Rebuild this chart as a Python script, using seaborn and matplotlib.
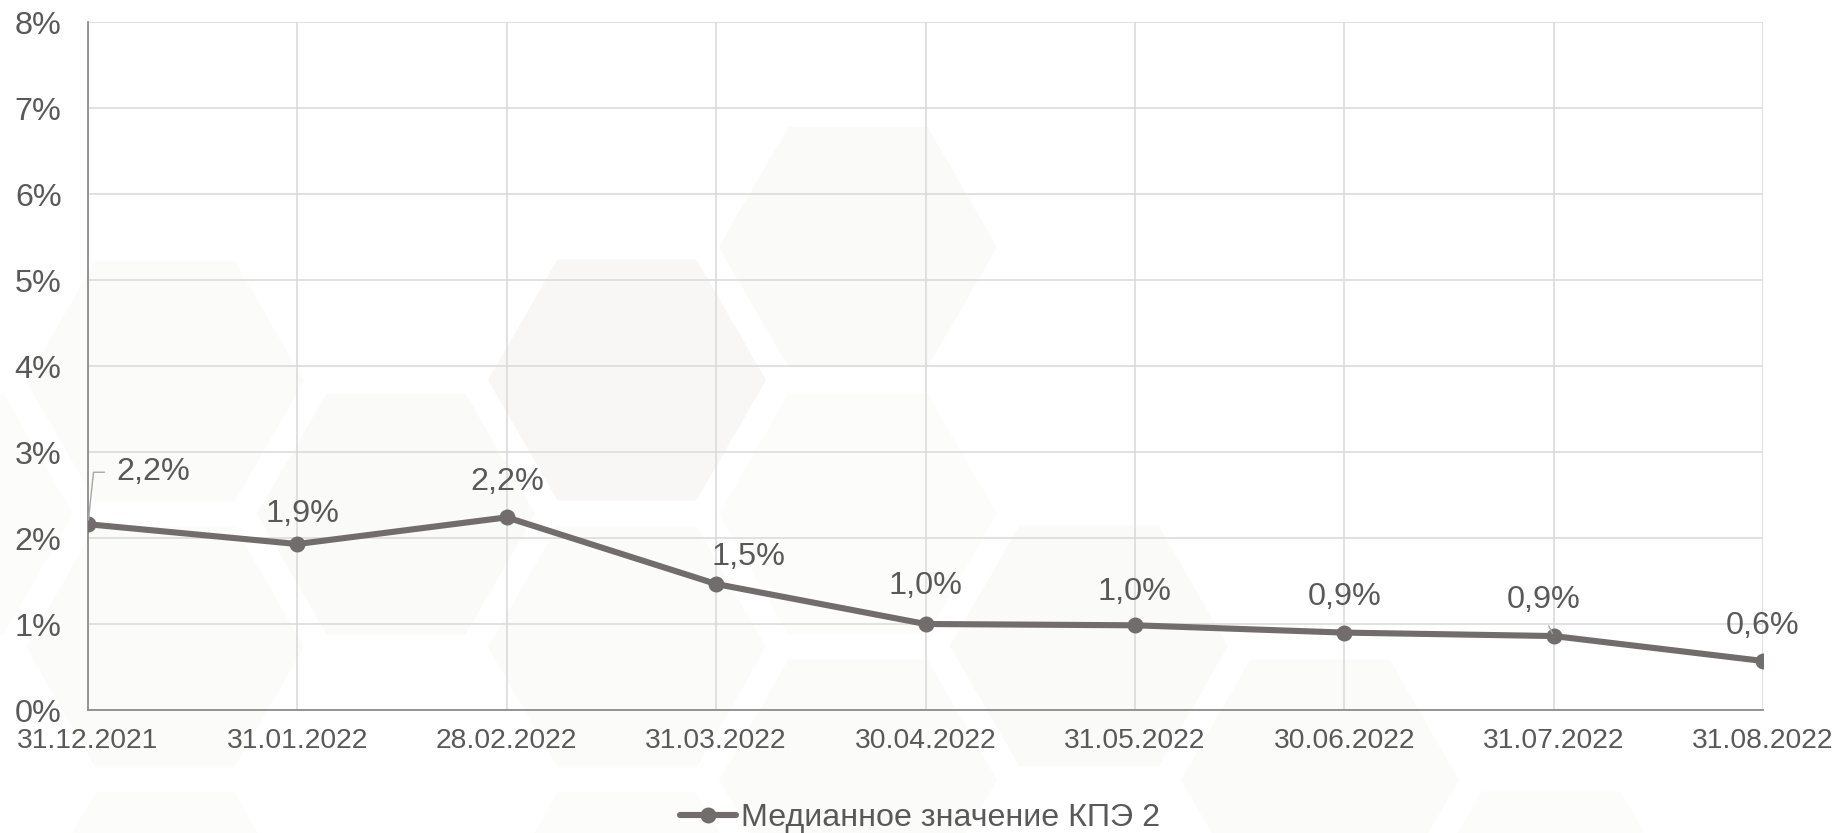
import numpy as np
import pandas as pd
import matplotlib
matplotlib.use("Agg")
import matplotlib.pyplot as plt
import seaborn as sns
from matplotlib.patches import RegularPolygon
from matplotlib.transforms import IdentityTransform
from matplotlib.ticker import FuncFormatter

# ---- data -------------------------------------------------------------
dates = ["31.12.2021", "31.01.2022", "28.02.2022", "31.03.2022", "30.04.2022",
         "31.05.2022", "30.06.2022", "31.07.2022", "31.08.2022"]
kpe2_median = [2.16, 1.93, 2.24, 1.465, 1.0, 0.985, 0.90, 0.86, 0.57]
series_name = "Медианное значение КПЭ 2"
y_ticks = [0, 1, 2, 3, 4, 5, 6, 7, 8]

# ---- style ------------------------------------------------------------
sns.set_theme(style="white")
plt.rcParams["font.family"] = ["Liberation Sans", "DejaVu Sans"]

LINE = "#716d6d"
TEXT = "#595959"
GRID = "#d9d9d9"
SPINE = "#8c8c8c"

W, H, DPI = 1836, 833, 100
fig = plt.figure(figsize=(W / DPI, H / DPI), dpi=DPI)
fig.patch.set_facecolor("white")

# faint honeycomb backdrop (pixel centres, top-left origin)
hex_cells = [
    (-66, 514, "#fcfcfb"), (165, 381, "#fbfbfa"), (165, 647, "#fbfbfa"),
    (165, 913, "#fcfcfb"), (396, 514, "#fafaf9"), (627, 380, "#f8f7f5"),
    (627, 647, "#fbfbfa"), (627, 913, "#fcfcfb"), (858, 247, "#fafaf9"),
    (858, 514, "#fcfcfb"), (858, 780, "#fbfbfa"), (1089, 646, "#fafaf9"),
    (1320, 780, "#fbfbfa"), (1551, 912, "#fcfcfb"),
]
for cx, cy, shade in hex_cells:
    fig.add_artist(RegularPolygon((cx, H - cy), numVertices=6, radius=139,
                                  orientation=np.pi / 6, transform=IdentityTransform(),
                                  facecolor=shade, edgecolor="none", zorder=-5))

# plot area
left, right, top, bottom = 88, 1763, 22, 710
ax = fig.add_axes([left / W, (H - bottom) / H, (right - left) / W, (bottom - top) / H])
ax.set_facecolor("none")

df = pd.DataFrame({"date": dates, "value": kpe2_median})
sns.lineplot(data=df, x="date", y="value", sort=False, marker="o", markersize=11.5,
             markeredgewidth=0, color=LINE, linewidth=4.4, label=series_name,
             ax=ax, zorder=3)

ax.set_xlim(0, len(dates) - 1)
ax.set_ylim(y_ticks[0], y_ticks[-1])
ax.set_yticks(y_ticks)
ax.yaxis.set_major_formatter(FuncFormatter(lambda v, _: f"{v:.0f}%"))
ax.set_xlabel("")
ax.set_ylabel("")

ax.grid(True, color=GRID, linewidth=1.1)
ax.set_axisbelow(True)
for side in ("top", "right"):
    ax.spines[side].set_visible(False)
for side in ("left", "bottom"):
    ax.spines[side].set_color(SPINE)
    ax.spines[side].set_linewidth(1.3)

ax.tick_params(axis="y", length=0, labelsize=23.3, labelcolor=TEXT, pad=19)
ax.tick_params(axis="x", length=0, labelsize=20.3, labelcolor=TEXT, pad=13)

# value labels above the markers (pixel offsets)
label_offsets = [(65, 52), (5, 30), (0, 35), (32, 27), (0, 38),
                 (0, 33), (0, 36), (-10, 36), (0, 35)]
for i, (v, (dx, dy)) in enumerate(zip(kpe2_median, label_offsets)):
    text = f"{v:.1f}".replace(".", ",") + "%"
    kw = {}
    if i == 0:
        kw["arrowprops"] = dict(arrowstyle="-", color="#a6a6a6", lw=1.0,
                                connectionstyle="angle,angleA=0,angleB=84",
                                relpos=(0, 0.5), shrinkA=6, shrinkB=3)
    elif i == 7:
        kw["arrowprops"] = dict(arrowstyle="-", color="#a6a6a6", lw=1.0,
                                relpos=(0.5, 0), shrinkA=6, shrinkB=2)
    ax.annotate(text, xy=(i, v), xytext=(dx, dy), textcoords="offset pixels",
                ha="center", va="center", fontsize=23.3, color=TEXT, zorder=4, **kw)

leg = ax.legend(loc="center", bbox_to_anchor=(0.501, 0.018), bbox_transform=fig.transFigure,
                frameon=False, fontsize=23.2, handlelength=1.76, handletextpad=0.15,
                labelcolor=TEXT, borderpad=0, borderaxespad=0)

fig.savefig("out.png", dpi=DPI, facecolor="white")
